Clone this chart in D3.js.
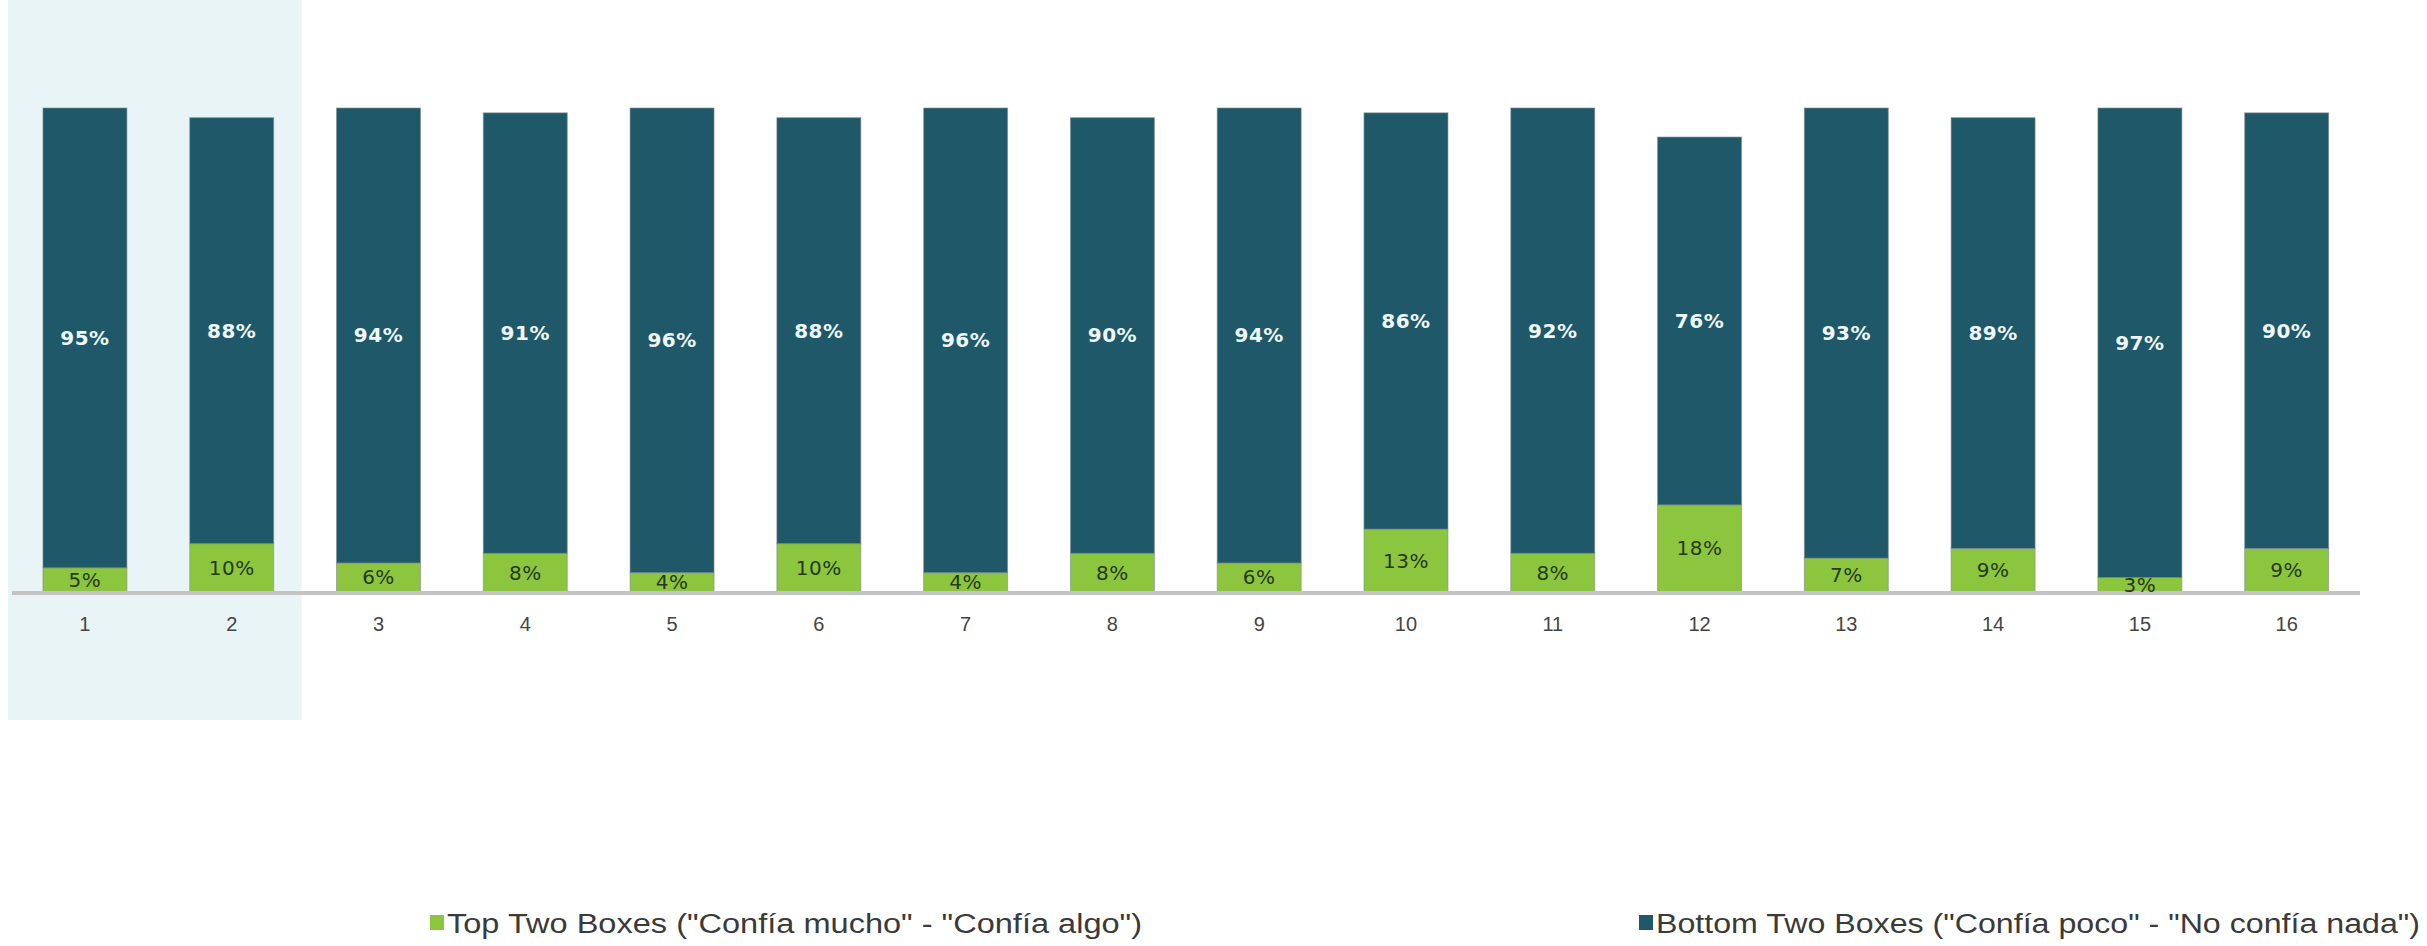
<!DOCTYPE html>
<html>
<head>
<meta charset="utf-8">
<script src="https://cdn.jsdelivr.net/npm/d3@7"></script>
<style>
  html, body { margin: 0; padding: 0; background: #ffffff; }
  svg { display: block; }
</style>
</head>
<body>
<svg id="chart" width="2427" height="946"></svg>
<script>
const categories = ["1","2","3","4","5","6","7","8","9","10","11","12","13","14","15","16"];
const topTwo    = [5, 10, 6, 8, 4, 10, 4, 8, 6, 13, 8, 18, 7, 9, 3, 9];
const bottomTwo = [95, 88, 94, 91, 96, 88, 96, 90, 94, 86, 92, 76, 93, 89, 97, 90];
const seriesNames = ["Top Two Boxes (\"Confía mucho\" - \"Confía algo\")",
                     "Bottom Two Boxes (\"Confía poco\" - \"No confía nada\")"];
const highlighted = ["1", "2"];

const colors = { top: "#8cc63e", bottom: "#1f5868" };

const svg = d3.select("#chart");

const x = d3.scaleBand()
  .domain(categories)
  .range([13.6, 2358])
  .paddingInner(0.428)
  .paddingOuter(0.2);

const y = d3.scaleLinear().domain([0, 100]).range([592, 108]);

// highlight panel behind first two categories
const hx0 = x(highlighted[0]) - 35;
const hx1 = x(highlighted[highlighted.length - 1]) + x.bandwidth() + 28;
svg.append("rect")
  .attr("x", hx0).attr("y", 0)
  .attr("width", hx1 - hx0).attr("height", 720)
  .attr("fill", "#e9f4f7");

const rows = categories.map((c, i) => ({ cat: c, top: topTwo[i], bottom: bottomTwo[i] }));
const stack = d3.stack().keys(["top", "bottom"])(rows);

const g = svg.append("g");
stack.forEach(layer => {
  g.selectAll(null)
    .data(layer)
    .join("rect")
    .attr("x", d => x(d.data.cat))
    .attr("width", x.bandwidth())
    .attr("y", d => y(d[1]))
    .attr("height", d => y(d[0]) - y(d[1]))
    .attr("fill", colors[layer.key])
    .attr("stroke", "#7f8c8c")
    .attr("stroke-opacity", 0.6)
    .attr("stroke-width", 1);
});

// baseline axis
const xAxis = d3.axisBottom(x).tickSize(0).tickPadding(25);
const axisG = svg.append("g").attr("transform", `translate(0,${y(0)})`).call(xAxis);
axisG.select(".domain").remove();
axisG.selectAll("text")
  .attr("font-family", "Liberation Sans, Arial, sans-serif")
  .attr("font-size", 20)
  .attr("fill", "#444");

svg.append("line")
  .attr("x1", 12).attr("x2", 2360)
  .attr("y1", y(0) + 1).attr("y2", y(0) + 1)
  .attr("stroke", "#c3c3c3").attr("stroke-width", 4);

// value labels
const labelLayer = svg.append("g");
stack.forEach(layer => {
  labelLayer.selectAll(null)
    .data(layer)
    .join("text")
    .attr("x", d => x(d.data.cat) + x.bandwidth() / 2)
    .attr("y", d => (y(d[0]) + y(d[1])) / 2)
    .attr("text-anchor", "middle")
    .attr("dominant-baseline", "central")
    .attr("font-family", "DejaVu Sans, sans-serif")
    .attr("font-size", 20)
    .attr("font-weight", layer.key === "bottom" ? "bold" : "normal")
    .attr("letter-spacing", 0.5)
    .attr("fill", layer.key === "bottom" ? "#eef7fa" : "#263a1a")
    .text(d => d.data[layer.key] + "%");
});

// legend
const legendItems = [
  { name: seriesNames[0], color: colors.top, sx: 430, tx: 447, len: 695 },
  { name: seriesNames[1], color: colors.bottom, sx: 1639, tx: 1656, len: 764 }
];
const lg = svg.append("g");
legendItems.forEach(it => {
  lg.append("rect")
    .attr("x", it.sx).attr("y", 915)
    .attr("width", 14).attr("height", 15)
    .attr("fill", it.color);
  lg.append("text")
    .attr("x", it.tx).attr("y", 933)
    .attr("font-family", "Liberation Sans, Arial, sans-serif")
    .attr("font-size", 27)
    .attr("fill", "#3a3a3a")
    .attr("textLength", it.len)
    .attr("lengthAdjust", "spacingAndGlyphs")
    .text(it.name);
});
</script>
</body>
</html>
